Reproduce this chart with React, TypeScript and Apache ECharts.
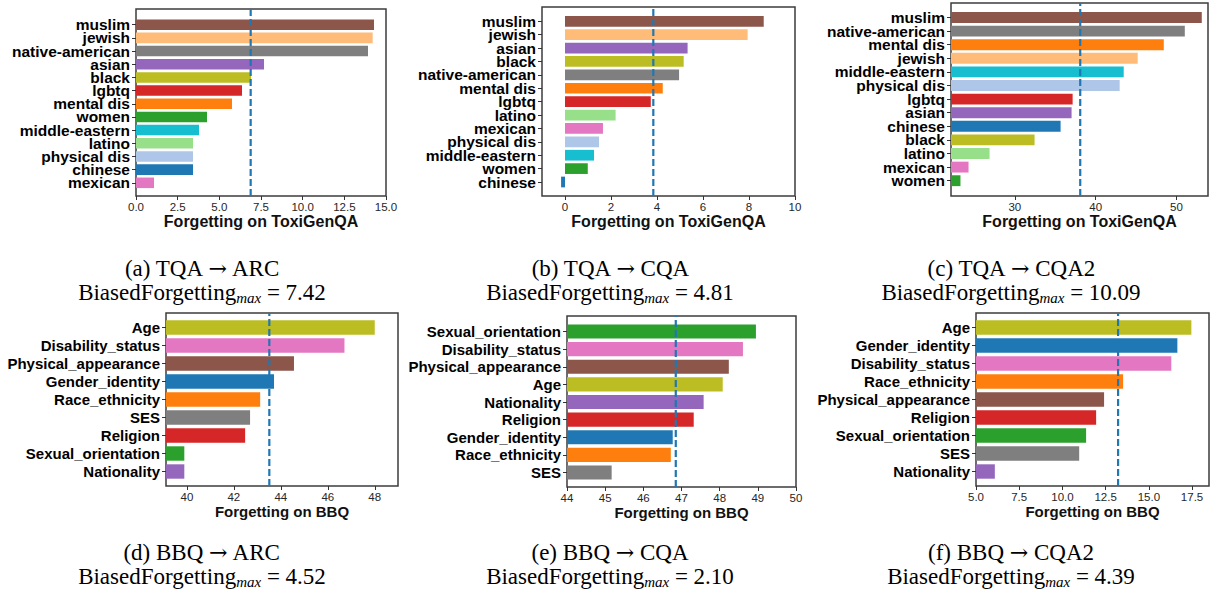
import React, { useEffect, useRef } from "react";
import * as echarts from "echarts";

// ---------------- data ----------------
const catsA = ["muslim", "jewish", "native-american", "asian", "black", "lgbtq", "mental dis", "women", "middle-eastern", "latino", "physical dis", "chinese", "mexican"];
const valsA = [14.28, 14.2, 13.92, 7.68, 6.9, 6.36, 5.76, 4.26, 3.78, 3.42, 3.42, 3.42, 1.08];

const catsB = ["muslim", "jewish", "asian", "black", "native-american", "mental dis", "lgbtq", "latino", "mexican", "physical dis", "middle-eastern", "women", "chinese"];
const valsB = [8.64, 7.94, 5.33, 5.16, 4.96, 4.25, 3.73, 2.2, 1.65, 1.48, 1.26, 0.99, -0.17];

const catsC = ["muslim", "native-american", "mental dis", "jewish", "middle-eastern", "physical dis", "lgbtq", "asian", "chinese", "black", "latino", "mexican", "women"];
const valsC = [53.13, 51.03, 48.43, 45.2, 43.47, 42.97, 37.15, 37.02, 35.66, 32.44, 26.87, 24.27, 23.27];

const catsD = ["Age", "Disability_status", "Physical_appearance", "Gender_identity", "Race_ethnicity", "SES", "Religion", "Sexual_orientation", "Nationality"];
const valsD = [48.0, 46.71, 44.56, 43.71, 43.12, 42.69, 42.48, 39.89, 39.89];

const catsE = ["Sexual_orientation", "Disability_status", "Physical_appearance", "Age", "Nationality", "Religion", "Gender_identity", "Race_ethnicity", "SES"];
const valsE = [48.95, 48.61, 48.24, 48.08, 47.58, 47.32, 46.77, 46.72, 45.17];

const catsF = ["Age", "Gender_identity", "Disability_status", "Race_ethnicity", "Physical_appearance", "Religion", "Sexual_orientation", "SES", "Nationality"];
const valsF = [17.46, 16.65, 16.3, 13.51, 12.41, 11.95, 11.37, 10.97, 6.09];

const meanLines = [6.88, 3.84, 38.09, 43.51, 46.85, 13.22];

const xRanges = [[0, 15], [-1, 10], [22.1, 53.9], [39.11, 48.99], [44, 50], [5, 18.48]];
const xTicks = [
  [0, 2.5, 5, 7.5, 10, 12.5, 15],
  [0, 2, 4, 6, 8, 10],
  [30, 40, 50],
  [40, 42, 44, 46, 48],
  [44, 45, 46, 47, 48, 49, 50],
  [5, 7.5, 10, 12.5, 15, 17.5],
];
const xDecimals = [1, 0, 0, 0, 0, 1];
const xNames = ["Forgetting on ToxiGenQA", "Forgetting on ToxiGenQA", "Forgetting on ToxiGenQA", "Forgetting on BBQ", "Forgetting on BBQ", "Forgetting on BBQ"];

const captionLetters = ["(a)", "(b)", "(c)", "(d)", "(e)", "(f)"];
const captionSources = ["TQA", "TQA", "TQA", "BBQ", "BBQ", "BBQ"];
const captionTargets = ["ARC", "CQA", "CQA2", "ARC", "CQA", "CQA2"];
const biasedMax = ["7.42", "4.81", "10.09", "4.52", "2.10", "4.39"];

// ---------------- styles / layout ----------------
const COLORS: Record<string, string> = {
  muslim: "#8c564b",
  jewish: "#ffbb78",
  "native-american": "#7f7f7f",
  asian: "#9467bd",
  black: "#bcbd22",
  lgbtq: "#d62728",
  "mental dis": "#ff7f0e",
  women: "#2ca02c",
  "middle-eastern": "#17becf",
  latino: "#98df8a",
  "physical dis": "#aec7e8",
  chinese: "#1f77b4",
  mexican: "#e377c2",
  Age: "#bcbd22",
  Disability_status: "#e377c2",
  Physical_appearance: "#8c564b",
  Gender_identity: "#1f77b4",
  Race_ethnicity: "#ff7f0e",
  SES: "#7f7f7f",
  Religion: "#d62728",
  Sexual_orientation: "#2ca02c",
  Nationality: "#9467bd",
};

// frame boxes (l, r, t, b) and bar regions (top, bottom)
const FRAMES = [
  { l: 136, r: 386, t: 9, b: 196, bt: 18.1, bb: 189.4 },
  { l: 542, r: 795, t: 7, b: 196, bt: 14.6, bb: 188.7 },
  { l: 951, r: 1208, t: 3, b: 196, bt: 10.7, bb: 187.5 },
  { l: 166, r: 398, t: 313, b: 486, bt: 318.5, bb: 480.5 },
  { l: 567, r: 796, t: 316, b: 487, bt: 322.7, bb: 481.3 },
  { l: 976, r: 1209, t: 313, b: 486, bt: 318.5, bb: 480.5 },
];
const CAPTION_X = [202, 610, 1011, 202, 610, 1011];
const CAPTION_Y = [268, 268, 268, 552, 552, 552];

const SANS = "'Liberation Sans', Arial, Helvetica, sans-serif";
const SERIF = "'Liberation Serif', 'Times New Roman', 'DejaVu Serif', serif";

const panels = [
  { cats: catsA, vals: valsA },
  { cats: catsB, vals: valsB },
  { cats: catsC, vals: valsC },
  { cats: catsD, vals: valsD },
  { cats: catsE, vals: valsE },
  { cats: catsF, vals: valsF },
];

function buildOption() {
  const grid: any[] = [];
  const xAxis: any[] = [];
  const yAxis: any[] = [];
  const series: any[] = [];
  const graphic: any[] = [];

  panels.forEach((p, i) => {
    const f = FRAMES[i];
    const top = i < 3;
    const catFont = top ? 15.5 : 15;
    const nameFont = top ? 16 : 15;
    const a = 2 * i;
    const b = 2 * i + 1;

    grid.push({
      left: f.l,
      top: f.t,
      width: f.r - f.l,
      height: f.b - f.t,
      show: true,
      borderColor: "#3c3c3c",
      borderWidth: 1.5,
      backgroundColor: "transparent",
      containLabel: false,
    });
    grid.push({
      left: f.l,
      top: f.bt,
      width: f.r - f.l,
      height: f.bb - f.bt,
      containLabel: false,
    });

    xAxis.push({
      gridIndex: a,
      type: "value",
      min: xRanges[i][0],
      max: xRanges[i][1],
      axisLine: { show: false },
      axisTick: {
        show: true,
        length: 4,
        customValues: xTicks[i],
        lineStyle: { color: "#333", width: 1 },
      },
      axisLabel: {
        customValues: xTicks[i],
        formatter: (v: number) => Number(v).toFixed(xDecimals[i]),
        fontSize: 11.5,
        fontFamily: SANS,
        color: "#262626",
        margin: 5,
      },
      splitLine: { show: false },
      name: xNames[i],
      nameLocation: "middle",
      nameGap: 17,
      nameTextStyle: {
        fontWeight: "bold",
        fontSize: nameFont,
        fontFamily: SANS,
        color: "#111",
        verticalAlign: "top",
      },
    });
    xAxis.push({
      gridIndex: b,
      type: "value",
      min: xRanges[i][0],
      max: xRanges[i][1],
      show: false,
      splitLine: { show: false },
    });

    yAxis.push({
      gridIndex: a,
      type: "value",
      min: 0,
      max: 1,
      show: false,
      splitLine: { show: false },
    });
    yAxis.push({
      gridIndex: b,
      type: "category",
      data: p.cats,
      inverse: true,
      axisLine: { show: false, onZero: false },
      axisTick: {
        show: true,
        alignWithLabel: true,
        length: 4,
        lineStyle: { color: "#333", width: 1 },
      },
      axisLabel: {
        interval: 0,
        fontSize: catFont,
        lineHeight: top ? 13 : 16,
        fontWeight: "bold",
        fontFamily: SANS,
        color: "#000",
        margin: 6,
      },
      splitLine: { show: false },
    });

    series.push({
      type: "bar",
      xAxisIndex: b,
      yAxisIndex: b,
      barWidth: "80%",
      z: 2,
      silent: true,
      data: p.vals.map((v, j) => ({ value: v, itemStyle: { color: COLORS[p.cats[j]] } })),
    });
    series.push({
      type: "line",
      xAxisIndex: a,
      yAxisIndex: a,
      data: [
        [meanLines[i], 0],
        [meanLines[i], 1],
      ],
      symbol: "none",
      silent: true,
      z: 5,
      lineStyle: { type: [7, 3], color: "#1f77b4", width: 2.2 },
    });

    graphic.push({
      type: "text",
      x: CAPTION_X[i],
      y: CAPTION_Y[i],
      style: {
        text: `{m|${captionLetters[i]} ${captionSources[i]} }{ar|→}{m| ${captionTargets[i]}}`,
        align: "center",
        verticalAlign: "middle",
        fill: "#000",
        rich: {
          m: { fontSize: 23, fontFamily: SERIF, lineHeight: 26, fill: "#000" },
          ar: { fontSize: 22, fontFamily: "'DejaVu Serif', serif", lineHeight: 26, fill: "#000" },
        },
      },
    });
    graphic.push({
      type: "text",
      x: CAPTION_X[i],
      y: CAPTION_Y[i] + 24,
      style: {
        text: `{m|BiasedForgetting}{s|max}{m| = ${biasedMax[i]}}`,
        align: "center",
        verticalAlign: "middle",
        fill: "#000",
        rich: {
          m: { fontSize: 23, fontFamily: SERIF, lineHeight: 26, fill: "#000" },
          s: { fontSize: 15, fontFamily: SERIF, fontStyle: "italic", lineHeight: 14, verticalAlign: "bottom", fill: "#000" },
        },
      },
    });
  });

  return {
    animation: false,
    backgroundColor: "#ffffff",
    grid,
    xAxis,
    yAxis,
    series,
    graphic,
  };
}

export default function App() {
  const ref = useRef<HTMLDivElement>(null);
  useEffect(() => {
    if (!ref.current) return;
    const chart = echarts.init(ref.current, undefined, { renderer: "svg" });
    chart.setOption(buildOption() as any);
    return () => chart.dispose();
  }, []);
  return (
    <div
      ref={ref}
      style={{ position: "absolute", left: 0, top: 0, width: 1214, height: 591, background: "#fff" }}
    />
  );
}
